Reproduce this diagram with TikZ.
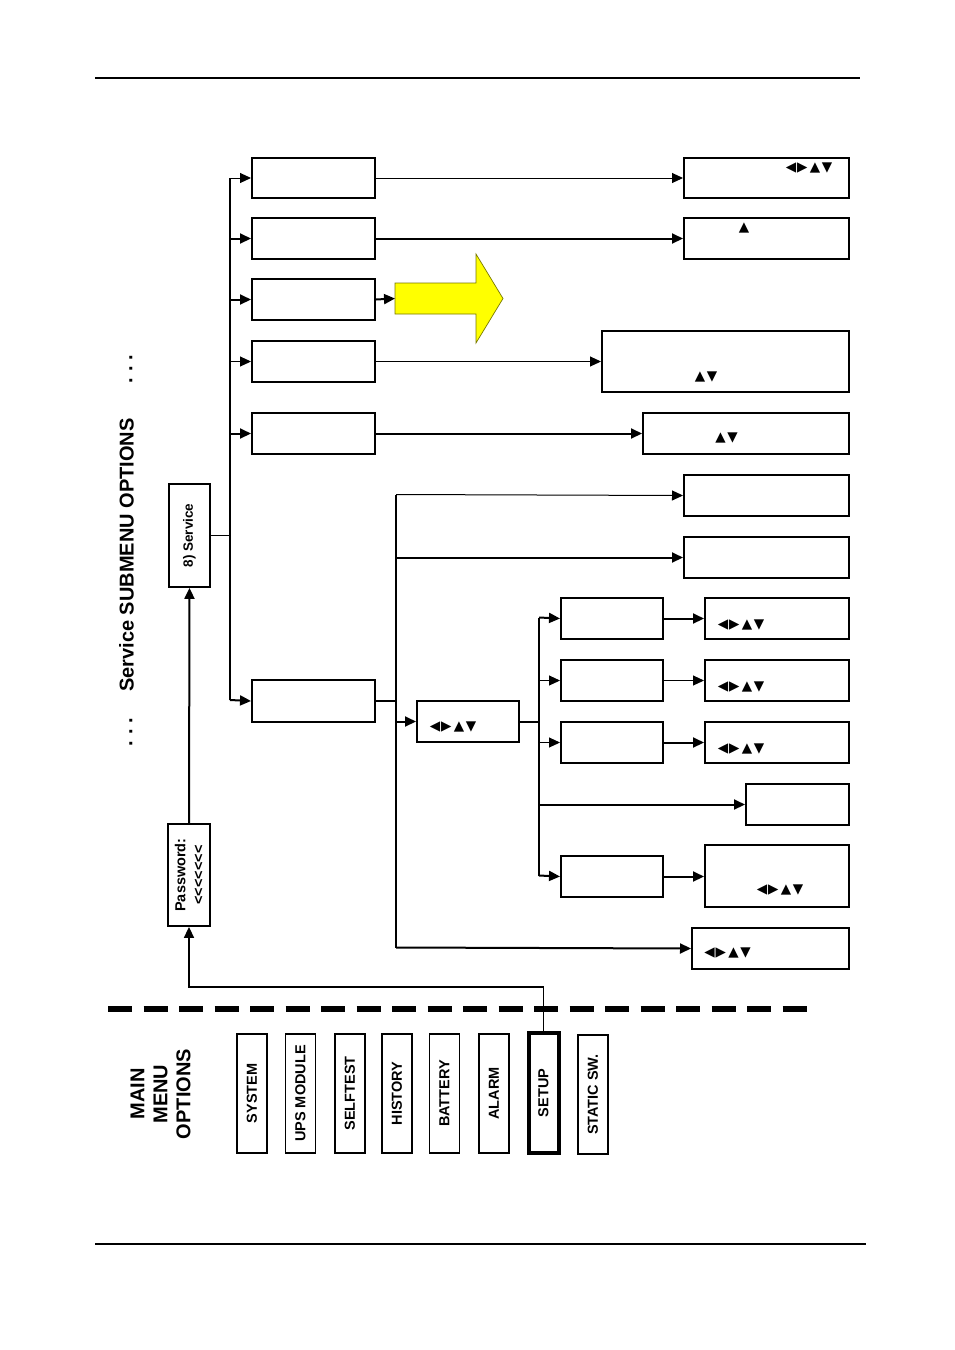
\documentclass[tikz,border=0pt]{standalone}
\usepackage{fontspec}
\setmainfont{Liberation Sans}
\newfontfamily\hb{Liberation Sans Bold}
\newfontfamily\symfont{DejaVu Sans}
\usetikzlibrary{arrows.meta}
\begin{document}
\begin{tikzpicture}[x=1pt,y=-1pt,
  box/.style={draw,line width=2pt,inner sep=0pt,anchor=north west},
  rbox/.style={draw,line width=1.8pt,inner sep=0pt,rotate=90},
  mbox/.style={rbox,minimum width=119pt,minimum height=30pt,font=\hb\fontsize{14.5pt}{15pt}\selectfont},
  arr/.style={-{Triangle[length=11pt,width=10pt]}},
  thinl/.style={line width=1pt},
  thickl/.style={line width=2pt},
  sym/.style={inner sep=0pt,font=\symfont\fontsize{13.5pt}{13.5pt}\selectfont},
  big/.style={font=\hb\fontsize{20pt}{23pt}\selectfont}
]
\useasboundingbox (0,0) rectangle (954,1350);
\fill[white] (0,0) rectangle (954,1350);

% page rules
\coordinate (rt1) at (95,78); \coordinate (rt2) at (860,78);
\coordinate (rb1) at (95,1244); \coordinate (rb2) at (866,1244);
\draw[line width=2pt] (rt1) -- (rt2);
\draw[line width=1.6pt] (rb1) -- (rb2);

% dashed separator
\coordinate (ds1) at (108,1009); \coordinate (ds2) at (807,1009);
\draw[line width=6pt,dash pattern=on 24pt off 11.5pt] (ds1) -- (ds2);

% titles
\node[big,rotate=90] (title) at (126.5,555) {Service SUBMENU OPTIONS};
\node[big,rotate=90,inner sep=0pt] (dots1) at (131,369) {.\hspace{6pt}.\hspace{6pt}.};
\node[big,rotate=90,inner sep=0pt] (dots2) at (131,732) {.\hspace{6pt}.\hspace{6pt}.};
\node[big,rotate=90,align=center] (mmo) at (160.5,1094) {MAIN\\MENU\\OPTIONS};

% main menu
\node[mbox] (m1) at (252,1093.5) {SYSTEM};
\node[mbox] (m2) at (300.5,1093.5) {UPS MODULE};
\node[mbox] (m3) at (350,1093.5) {SELFTEST};
\node[mbox] (m4) at (397,1093.5) {HISTORY};
\node[mbox] (m5) at (444.5,1093.5) {BATTERY};
\node[mbox] (m6) at (494,1093.5) {ALARM};
\node[mbox,line width=4pt,minimum width=120pt] (su) at (543.5,1093) {SETUP};
\node[mbox] (m8) at (593,1094.5) {STATIC SW.};

% password and service
\node[rbox,minimum width=102pt,minimum height=42pt,align=center,
      font=\hb\fontsize{14.5pt}{18pt}\selectfont] (pw) at (189,875)
      {Password:\\<\kern0pt<\kern0pt<\kern0pt<\kern0pt<\kern0pt<\kern0pt<};
\node[rbox,minimum width=103pt,minimum height=41pt,
      font=\hb\fontsize{13.5pt}{15pt}\selectfont] (sv) at (189.5,535.5) {8) Service};

\coordinate (sk) at (543.5,987);
\draw[arr,line width=1.6pt] (su.east) -- (sk) -| (pw.west);
\draw[arr,thickl] (pw.east) -- (sv.west);

% left column boxes
\node[box,minimum width=123pt,minimum height=40pt] (b1) at (251,157) {};
\node[box,minimum width=123pt,minimum height=41pt] (b2) at (251,217) {};
\node[box,minimum width=123pt,minimum height=41pt] (b3) at (251,278) {};
\node[box,minimum width=123pt,minimum height=41pt] (b4) at (251,340) {};
\node[box,minimum width=123pt,minimum height=41pt] (b5) at (251,412) {};
\node[box,minimum width=123pt,minimum height=42pt] (b6) at (251,679) {};

% right column boxes
\node[box,minimum width=165pt,minimum height=40pt] (r1) at (683,157) {};
\node[box,minimum width=165pt,minimum height=41pt] (r2) at (683,217) {};
\node[box,minimum width=247pt,minimum height=61pt] (r4) at (601,330) {};
\node[box,minimum width=206pt,minimum height=41pt] (r5) at (642,412) {};
\node[box,minimum width=165pt,minimum height=41pt] (r6) at (683,474) {};
\node[box,minimum width=165pt,minimum height=41pt] (r7) at (683,536) {};
\node[box,minimum width=102pt,minimum height=41pt] (c1) at (416,700) {};
\node[box,minimum width=102pt,minimum height=41pt] (d1) at (560,597) {};
\node[box,minimum width=102pt,minimum height=41pt] (d2) at (560,659) {};
\node[box,minimum width=102pt,minimum height=41pt] (d3) at (560,721) {};
\node[box,minimum width=102pt,minimum height=41pt] (d5) at (560,855) {};
\node[box,minimum width=144pt,minimum height=41pt] (e1) at (704,597) {};
\node[box,minimum width=144pt,minimum height=41pt] (e2) at (704,659) {};
\node[box,minimum width=144pt,minimum height=41pt] (e3) at (704,721) {};
\node[box,minimum width=103pt,minimum height=41pt] (f1) at (745,783) {};
\node[box,minimum width=144pt,minimum height=62pt] (e5) at (704,844) {};
\node[box,minimum width=157pt,minimum height=41pt] (rl) at (691,927) {};

% symbols
\node[sym] (s1) at (809,168) {◀\kern0.8pt▶\hspace{2.5pt}▲\hspace{1.5pt}▼};
\node[sym] (s2) at (744,228) {▲};
\node[sym] (s4) at (706,377) {▲\hspace{1.5pt}▼};
\node[sym] (s5) at (726.5,438) {▲\hspace{1.5pt}▼};
\node[sym] (sc) at (453,727) {◀\kern0.8pt▶\hspace{2.5pt}▲\hspace{1.5pt}▼};
\node[sym] (se1) at (741,625) {◀\kern0.8pt▶\hspace{2.5pt}▲\hspace{1.5pt}▼};
\node[sym] (se2) at (741,687) {◀\kern0.8pt▶\hspace{2.5pt}▲\hspace{1.5pt}▼};
\node[sym] (se3) at (741,749) {◀\kern0.8pt▶\hspace{2.5pt}▲\hspace{1.5pt}▼};
\node[sym] (se5) at (780,890) {◀\kern0.8pt▶\hspace{2.5pt}▲\hspace{1.5pt}▼};
\node[sym] (sl) at (727.5,953) {◀\kern0.8pt▶\hspace{2.5pt}▲\hspace{1.5pt}▼};

% yellow arrow
\coordinate (ya) at (395,298.5);
\draw[line width=0.7pt,draw={rgb,255:red,120;green,120;blue,0},fill={rgb,255:red,255;green,255;blue,0}]
  (395,283) -- (476,283) -- (476,254) -- (503,298.5) -- (476,343) -- (476,314) -- (395,314) -- cycle;

% trunk from service
\coordinate (t1) at (230,178);
\coordinate (t6) at (230,700);
\draw[thinl] (sv.south) -- (sv.south -| t1);
\draw[line width=1.2pt] (t1) -- (t6);
\draw[arr,thinl] (t1) -- (b1.west);
\draw[arr,thickl] (b2.west -| t1) -- (b2.west);
\draw[arr,thickl] (b3.west -| t1) -- (b3.west);
\draw[arr,thinl] (b4.west -| t1) -- (b4.west);
\draw[arr,thickl] (b5.west -| t1) -- (b5.west);
\draw[arr,thickl] (t6) -- (b6.west);

% left to right
\draw[arr,thinl] (b1.east) -- (r1.west);
\draw[arr,thickl] (b2.east) -- (r2.west);
\draw[arr,thickl] (b3.east) -- (ya);
\draw[arr,thinl] (b4.east) -- (r4.west);
\draw[arr,thickl] (b5.east) -- (r5.west);

% second trunk
\coordinate (u1) at (396,494.5);
\coordinate (u2) at (396,947.5);
\draw[thickl] (b6.east) -- (b6.east -| u1);
\draw[thickl] (u1) -- (u2);
\draw[arr,thinl] (u1) -- (r6.west);
\draw[arr,thickl] (r7.west -| u1) -- (r7.west);
\draw[arr,thickl] (c1.west -| u1) -- (c1.west);
\draw[arr,thickl] (u2) -- (rl.west);

% third trunk
\coordinate (v1) at (539,617.5);
\coordinate (v5) at (539,875.5);
\draw[thickl] (c1.east) -- (c1.east -| v1);
\draw[thickl] (v1) -- (v5);
\draw[arr,thickl] (v1) -- (d1.west);
\draw[arr,thinl] (d2.west -| v1) -- (d2.west);
\draw[arr,thinl] (d3.west -| v1) -- (d3.west);
\draw[arr,thickl] (f1.west -| v1) -- (f1.west);
\draw[arr,thickl] (v5) -- (d5.west);

\draw[arr,thickl] (d1.east) -- (e1.west);
\draw[arr,thinl] (d2.east) -- (e2.west);
\draw[arr,thickl] (d3.east) -- (e3.west);
\draw[arr,thickl] (d5.east) -- (d5.east -| e5.west);
\end{tikzpicture}
\end{document}
